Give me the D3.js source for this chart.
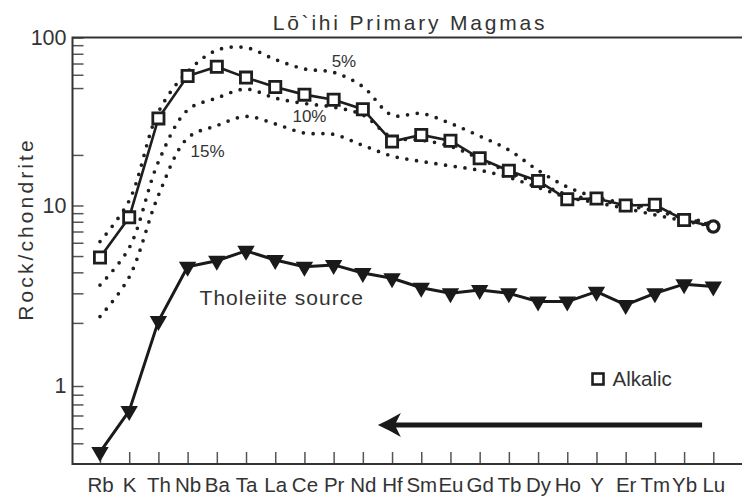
<!DOCTYPE html>
<html>
<head>
<meta charset="utf-8">
<script src="https://cdn.jsdelivr.net/npm/d3@7/dist/d3.min.js"></script>
<style>
body { margin: 0; background: #fff; }
text { font-family: "Liberation Sans", Arial, sans-serif; fill: #333; }
</style>
</head>
<body>
<svg id="chart" width="742" height="502"></svg>
<script>
const elements = ['Rb','K','Th','Nb','Ba','Ta','La','Ce','Pr','Nd','Hf','Sm','Eu','Gd','Tb','Dy','Ho','Y','Er','Tm','Yb','Lu']
const alkalic = [4.9, 8.5, 33.0, 59.0, 67.0, 57.7, 50.7, 45.7, 42.6, 37.4, 24.0, 26.3, 24.3, 19.1, 16.1, 14.0, 10.9, 11.0, 10.0, 10.1, 8.2, 7.5]
const tholeiite = [0.45, 0.74, 2.05, 4.32, 4.69, 5.37, 4.74, 4.32, 4.43, 3.96, 3.69, 3.24, 3.0, 3.14, 3.0, 2.68, 2.68, 3.07, 2.56, 3.0, 3.4, 3.29]
const melt5 = [6.1, 10.7, 36, 62.6, 84, 87, 74, 65, 62, 51, 34.5, 35.3, 30.8, 25.9, 21.4, 16.2, 12.9, 11.2, 10.3, 9.6, 8.6, 7.7]
const melt10 = [3.36, 5.6, 18.2, 37, 43.6, 49.3, 43.6, 40.5, 38.5, 34.6, 25.5, 24.5, 22.5, 19, 15.8, 13.6, 11.6, 10.8, 10.0, 9.3, 8.4, 7.6]
const melt15 = [2.18, 3.75, 11.5, 25.2, 29.9, 33.9, 30.6, 27, 26.5, 22.8, 19.7, 18.3, 17.2, 16.2, 14.7, 12.8, 11.2, 10.4, 9.6, 8.8, 8.1, 7.5]
const yTicks = [100, 90, 80, 70, 60, 50, 20, 10, 9, 8, 7, 6, 5, 4, 3, 2, 1, 0.9, 0.8, 0.7, 0.6, 0.5]
const yLabels = [1, 10, 100]

let svg = d3.select('#chart')
let pLeft = 72.5, pRight = 742, pTop = 37.5, pBottom = 464

let x = d3.scalePoint().domain(elements).range([100, 713.3])
// the printed axis is stretched below 2, so the log scale is piecewise
let y = d3.scaleLog().domain([100, 2, 1, 0.5]).range([pTop, 322.9, 386, 443.3])

svg.append('text')
    .text('Lō`ihi Primary Magmas')
    .attr('x', 410)
    .attr('y', 30)
    .attr('text-anchor', 'middle')
    .attr('font-size', 21)
    .attr('letter-spacing', 2.8)

svg.append('text')
    .text('Rock/chondrite')
    .attr('transform', 'translate(33,229)rotate(-90)')
    .attr('text-anchor', 'middle')
    .attr('font-size', 21)
    .attr('letter-spacing', 3.1)

let yAxis = svg.append('g')
    .attr('transform', `translate(${pLeft},0)`)
    .call(d3.axisLeft(y).tickValues(yTicks).tickSize(-11).tickPadding(6)
        .tickFormat(d => yLabels.includes(d) ? d : ''))
yAxis.select('.domain').remove()
yAxis.selectAll('line').attr('stroke', '#555').attr('stroke-width', 1.5)
yAxis.selectAll('text').attr('font-size', 21.5).attr('fill', '#333')

let xAxis = svg.append('g')
    .attr('transform', `translate(0,${pBottom})`)
    .call(d3.axisBottom(x).tickSize(-12).tickPadding(13))
xAxis.select('.domain').remove()
xAxis.selectAll('line').attr('stroke', '#555').attr('stroke-width', 1.5)
xAxis.selectAll('text').attr('font-size', 20.5).attr('fill', '#333')
xAxis.attr('font-family', null)
yAxis.attr('font-family', null)

svg.append('path')
    .attr('d', `M${pRight},${pTop}H${pLeft}V${pBottom}H${pRight}`)
    .attr('fill', 'none')
    .attr('stroke', '#333')
    .attr('stroke-width', 2)

let curve = d3.line()
    .x((d, i) => x(elements[i]))
    .y(d => y(d))
    .curve(d3.curveCatmullRom.alpha(0.5))

svg.selectAll('.melt')
    .data([melt5, melt10, melt15])
    .join('path')
    .attr('class', 'melt')
    .attr('d', curve)
    .attr('fill', 'none')
    .attr('stroke', '#1e1e1e')
    .attr('stroke-width', 3.7)
    .attr('stroke-linecap', 'round')
    .attr('stroke-dasharray', '0 9.8')

let pct = [['5%', 'Pr', 66.8, -2], ['10%', 'Ce', 31.3, -12], ['15%', 'Nb', 19.5, 3]]
svg.selectAll('.pct')
    .data(pct)
    .join('text')
    .attr('class', 'pct')
    .text(d => d[0])
    .attr('x', d => x(d[1]) + d[3])
    .attr('y', d => y(d[2]))
    .attr('font-size', 17)
    .attr('fill', '#555')

let line = d3.line()
    .x((d, i) => x(elements[i]))
    .y(d => y(d))

svg.append('path')
    .attr('d', line(tholeiite))
    .attr('fill', 'none')
    .attr('stroke', '#1a1a1a')
    .attr('stroke-width', 3)
    .attr('stroke-linejoin', 'round')

svg.selectAll('.tri')
    .data(tholeiite)
    .join('path')
    .attr('class', 'tri')
    .attr('d', 'M-8.7,-5L8.7,-5L0,10Z')
    .attr('transform', (d, i) => `translate(${x(elements[i])},${y(d)})`)
    .attr('fill', '#1a1a1a')

svg.append('path')
    .attr('d', line(alkalic))
    .attr('fill', 'none')
    .attr('stroke', '#1e1e1e')
    .attr('stroke-width', 2.6)

svg.selectAll('.sq')
    .data(alkalic)
    .join('path')
    .attr('class', 'sq')
    .attr('d', (d, i) => i === alkalic.length - 1
        ? d3.symbol(d3.symbolCircle, 100)()
        : 'M-5.6,-5.6H5.6V5.6H-5.6Z')
    .attr('transform', (d, i) => `translate(${x(elements[i])},${y(d)})`)
    .attr('fill', '#fff')
    .attr('stroke', '#1e1e1e')
    .attr('stroke-width', (d, i) => i === alkalic.length - 1 ? 3.3 : 2.8)

svg.append('text')
    .text('Tholeiite source')
    .attr('x', x('Nb') + 12)
    .attr('y', y(2.56))
    .attr('font-size', 21)
    .attr('letter-spacing', 1)

// legend
svg.append('rect')
    .attr('x', 592.5)
    .attr('y', 373.5)
    .attr('width', 11)
    .attr('height', 11)
    .attr('fill', '#fff')
    .attr('stroke', '#1e1e1e')
    .attr('stroke-width', 2.6)
svg.append('text')
    .text('Alkalic')
    .attr('x', 612.5)
    .attr('y', 385.5)
    .attr('font-size', 20.5)

// arrow
let ay = y(0.623), tip = x('Nd') + 15
svg.append('line')
    .attr('x1', x('Yb') + 18)
    .attr('x2', tip + 16)
    .attr('y1', ay)
    .attr('y2', ay)
    .attr('stroke', '#1a1a1a')
    .attr('stroke-width', 5)
svg.append('path')
    .attr('d', 'M0,0Q11,-5 23,-12L17,0L23,12Q11,5 0,0Z')
    .attr('transform', `translate(${tip},${ay})`)
    .attr('fill', '#1a1a1a')
</script>
</body>
</html>
